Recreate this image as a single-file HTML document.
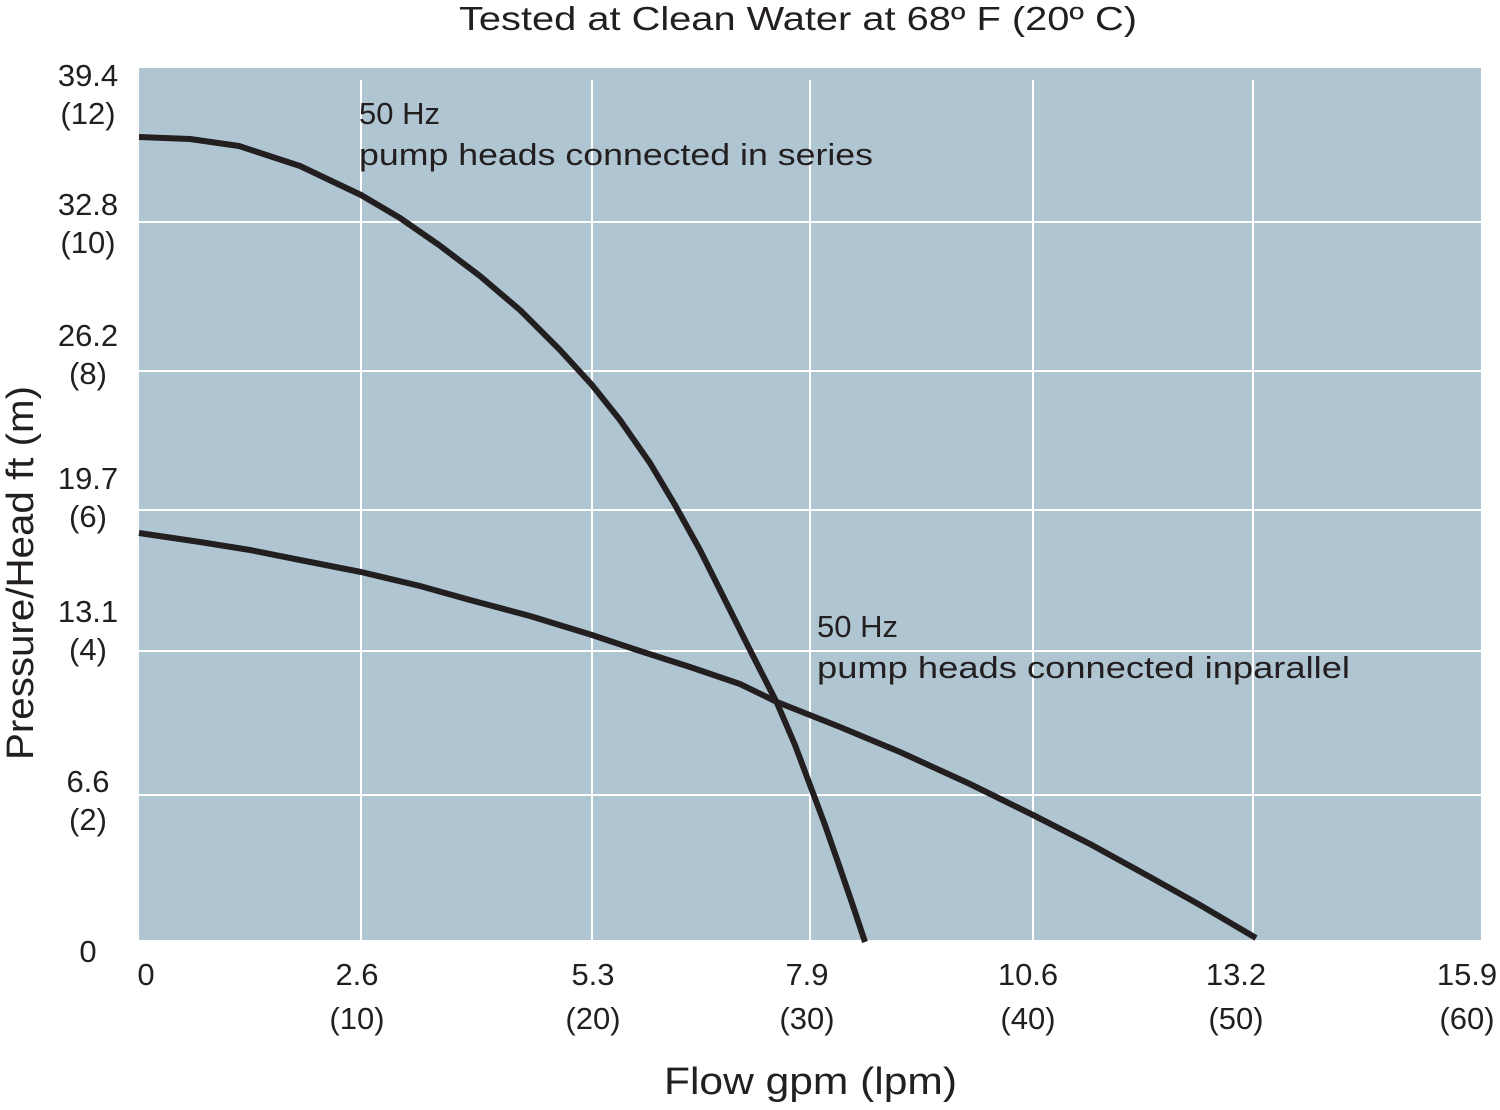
<!DOCTYPE html>
<html><head><style>
body{margin:0;background:#fff;}
svg text{font-family:"Liberation Sans",sans-serif;fill:#231f20;}
</style></head><body>
<svg width="1500" height="1105" viewBox="0 0 1500 1105">
<rect x="139" y="68" width="1342" height="872" fill="#afc5d1"/>
<g stroke="#fff" stroke-width="2">
<line x1="361" y1="80" x2="361" y2="940"/>
<line x1="592" y1="80" x2="592" y2="940"/>
<line x1="810" y1="80" x2="810" y2="940"/>
<line x1="1033" y1="80" x2="1033" y2="940"/>
<line x1="1253" y1="80" x2="1253" y2="940"/>
<line x1="139" y1="222" x2="1481" y2="222"/>
<line x1="139" y1="371" x2="1481" y2="371"/>
<line x1="139" y1="510" x2="1481" y2="510"/>
<line x1="139" y1="651" x2="1481" y2="651"/>
<line x1="139" y1="795" x2="1481" y2="795"/>
</g>
<g fill="none" stroke="#231f20" stroke-width="6" stroke-linejoin="round">
<polyline points="139,137 190,139 239,146 300,166 361,195 400,218 439,245 480,276 520,310 560,350 592,385 620,420 650,463 675,505 700,550 725,600 750,650 777,703 795,745 810,785 825,825 840,868 852,903 865,942"/>
<polyline points="139,533 200,542 250,550 300,560 361,572 420,586 470,600 530,616 592,635 640,651 690,667 740,684 777,702 840,727 900,752 970,784 1033,815 1090,844 1150,877 1200,905 1256,938"/>
</g>
<g font-size="31">
<text x="459" y="30" textLength="678" lengthAdjust="spacingAndGlyphs" font-size="33">Tested at Clean Water at 68º F (20º C)</text>
<text x="359" y="124">50 Hz</text>
<text x="359" y="165" textLength="514" lengthAdjust="spacingAndGlyphs">pump heads connected in series</text>
<text x="817" y="637">50 Hz</text>
<text x="817" y="678" textLength="533" lengthAdjust="spacingAndGlyphs">pump heads connected inparallel</text>
</g>
<g font-size="31" text-anchor="middle">
<text x="88" y="86">39.4</text><text x="88" y="124">(12)</text>
<text x="88" y="215">32.8</text><text x="88" y="253">(10)</text>
<text x="88" y="346">26.2</text><text x="88" y="384">(8)</text>
<text x="88" y="489">19.7</text><text x="88" y="527">(6)</text>
<text x="88" y="622">13.1</text><text x="88" y="660">(4)</text>
<text x="88" y="792">6.6</text><text x="88" y="830">(2)</text>
<text x="88" y="962">0</text>
<text x="146" y="985">0</text>
<text x="357" y="985">2.6</text><text x="357" y="1029">(10)</text>
<text x="593" y="985">5.3</text><text x="593" y="1029">(20)</text>
<text x="807" y="985">7.9</text><text x="807" y="1029">(30)</text>
<text x="1028" y="985">10.6</text><text x="1028" y="1029">(40)</text>
<text x="1236" y="985">13.2</text><text x="1236" y="1029">(50)</text>
<text x="1467" y="985">15.9</text><text x="1467" y="1029">(60)</text>
</g>
<text x="664" y="1094" font-size="38" textLength="293" lengthAdjust="spacingAndGlyphs">Flow gpm (lpm)</text>
<text transform="translate(33,760) rotate(-90)" font-size="38" textLength="374" lengthAdjust="spacingAndGlyphs">Pressure/Head ft (m)</text>
</svg>
</body></html>
